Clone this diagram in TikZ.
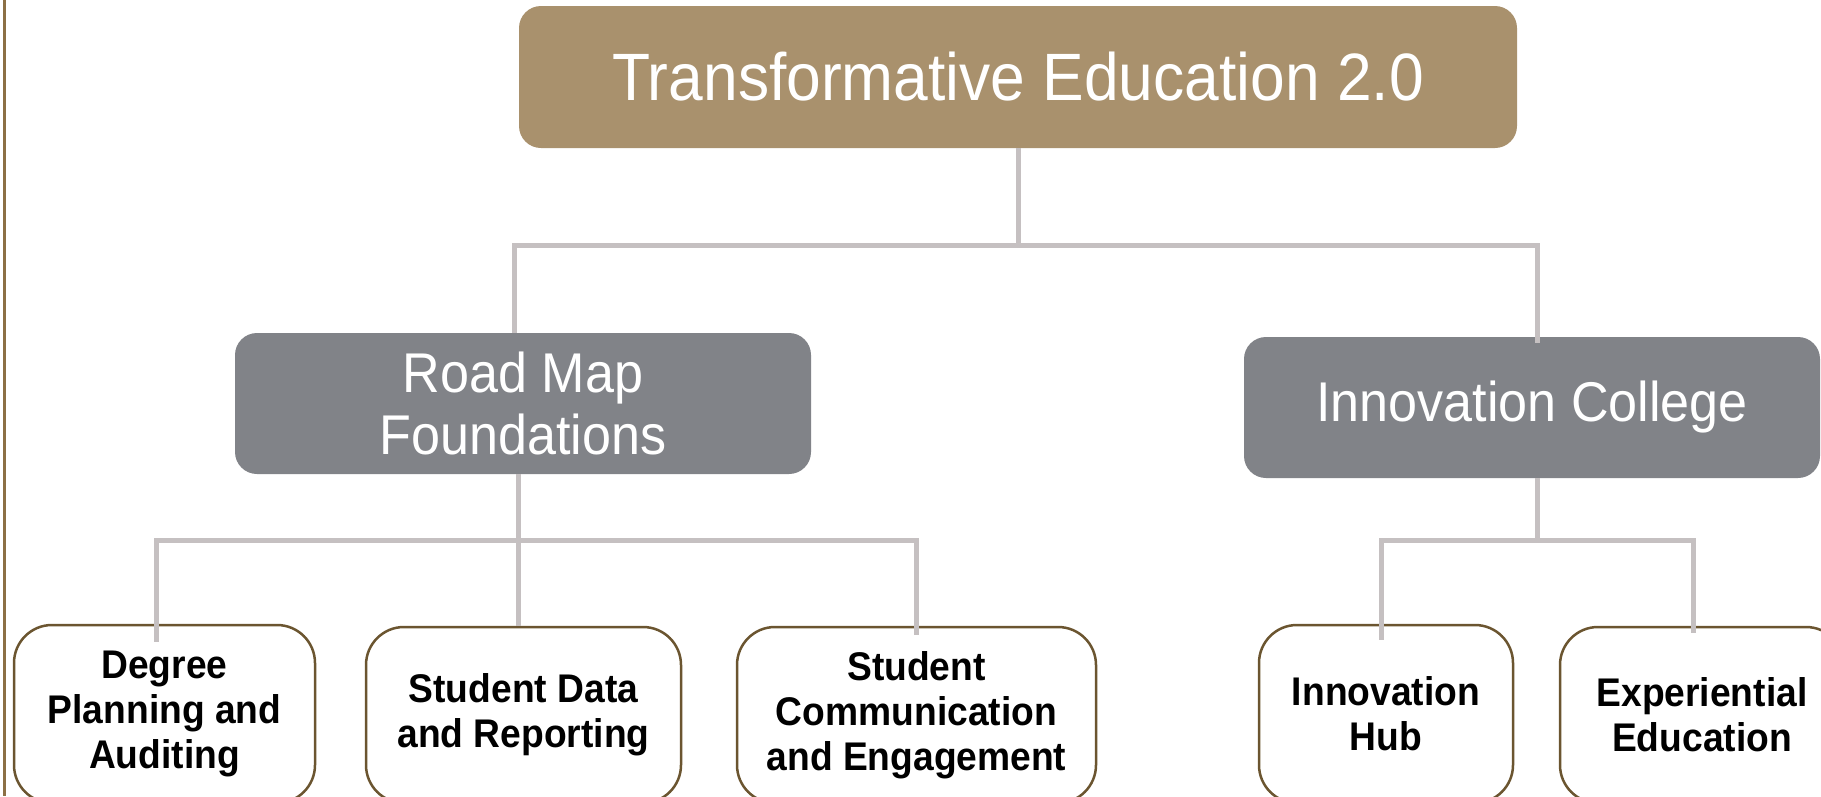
\documentclass[tikz,border=0pt]{standalone}
\usepackage{fontspec}
\setmainfont{Liberation Sans}[FakeStretch=0.93]
\usetikzlibrary{calc}
\definecolor{titletan}{HTML}{A9916D}
\definecolor{midgray}{HTML}{818388}
\definecolor{conngray}{HTML}{C5C0C1}
\definecolor{leafbrown}{HTML}{6B5530}
\definecolor{framebrown}{HTML}{8C7045}
\begin{document}
\begin{tikzpicture}[x=1pt,y=-1pt,
  titlebox/.style={fill=titletan, rounded corners=22pt, minimum width=998pt, minimum height=142pt,
    inner sep=0pt, text=white, font=\fontsize{67}{72}\selectfont},
  midbox/.style={fill=midgray, rounded corners=22pt, minimum width=576pt, minimum height=141pt,
    inner sep=0pt, text=white, align=center, font=\fontsize{56}{62}\selectfont},
  leafbox/.style={draw=leafbrown, line width=2.5pt, fill=white, rounded corners=38pt,
    inner sep=0pt, align=center, font=\bfseries\fontsize{40}{45}\selectfont},
  conn/.style={draw=conngray, line width=5pt},
  frameline/.style={draw=framebrown, line width=2.5pt}]
\useasboundingbox (0,0) rectangle (1821,796);
\clip (0,0) rectangle (1821,796);
\draw[frameline] (4.5,0) -- (4.5,796);

\node[titlebox] (top) at (1018,77) {Transformative Education 2.0};
\node[midbox] (rm) at (523,403.5) {Road Map\\Foundations};
\node[midbox] (ic) at (1532,407.5) {Innovation College};

\node[leafbox, minimum width=301pt, minimum height=178pt] (dg) at (164.5,714) {Degree\\Planning and\\Auditing};
\node[leafbox, minimum width=315pt, minimum height=176pt] (sd) at (523.5,715) {Student Data\\and Reporting};
\node[leafbox, minimum width=359pt, minimum height=176pt] (sc) at (916.5,715) {Student\\Communication\\and Engagement};
\node[leafbox, minimum width=254pt, minimum height=178pt] (ih) at (1386,714) {Innovation\\Hub};
\node[leafbox, minimum width=284pt, minimum height=176pt] (ee) at (1702,715) {Experiential\\Education};

\coordinate (aL) at (514,245);
\coordinate (aR) at (1537,245);
\coordinate (bM) at (518,540);
\coordinate (bL) at (156,540);
\coordinate (bR) at (916,540);
\coordinate (cL) at (1381,540);
\coordinate (cR) at (1693,540);

\draw[conn] (top.south) -- (top.south |- aL);
\draw[conn] (aL |- rm.north) -- (aL) -- (aR) -- ($(aR |- ic.north)+(0,6)$);

\draw[conn] (bM |- rm.south) -- (bM |- sd.north);
\draw[conn] ($(bL |- dg.north)+(0,18)$) -- (bL) -- (bR) -- ($(bR |- sc.north)+(0,9)$);

\draw[conn] (aR |- ic.south) -- (aR |- cL);
\draw[conn] ($(cL |- ih.north)+(0,16)$) -- (cL) -- (cR) -- ($(cR |- ee.north)+(0,7)$);
\end{tikzpicture}
\end{document}
